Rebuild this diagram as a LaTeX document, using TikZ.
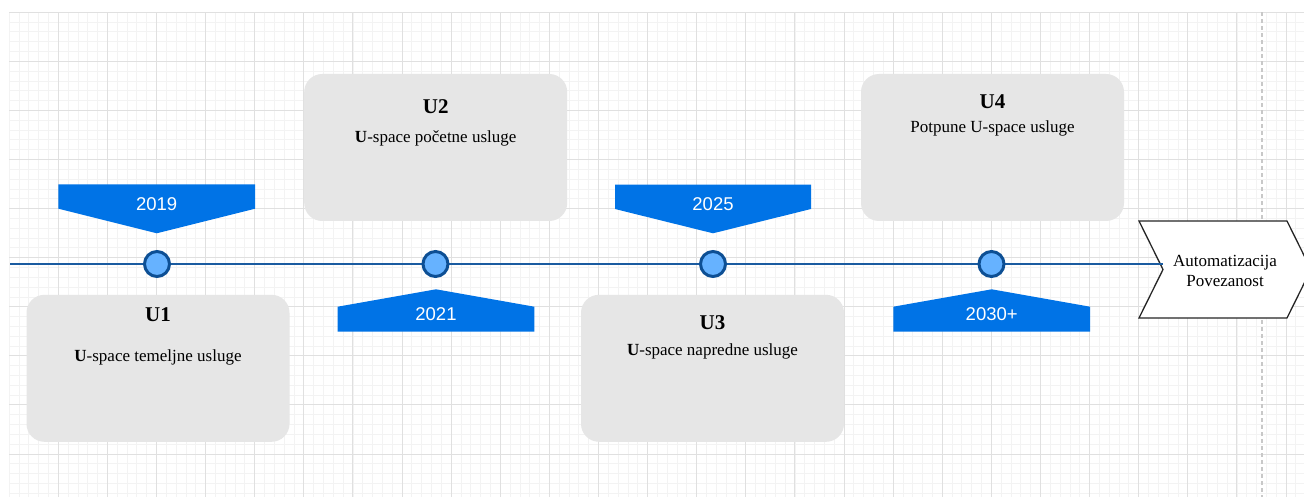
\documentclass[tikz,border=0pt]{standalone}
\usepackage{fontspec}
\setmainfont{Liberation Serif}
\newfontfamily\yearfont{Liberation Sans}
\definecolor{gridminor}{RGB}{243,243,243}
\definecolor{gridmajor}{RGB}{224,224,224}
\definecolor{boxgray}{RGB}{230,230,230}
\definecolor{flagblue}{RGB}{0,115,230}
\definecolor{linedark}{RGB}{26,91,160}
\definecolor{ringdark}{RGB}{13,79,148}
\definecolor{dotfill}{RGB}{102,178,255}
\tikzset{
  minorline/.style={draw=gridminor, line width=0.9pt},
  majorline/.style={draw=gridmajor, line width=1pt},
  card/.style={fill=boxgray, draw=none, rounded corners=18pt, minimum width=263pt, minimum height=147pt, inner sep=0pt},
  flag/.style={fill=flagblue, draw=none},
  yeartext/.style={anchor=base, text=white, font=\yearfont\fontsize{18.5}{20}\selectfont, inner sep=0pt},
  titletext/.style={anchor=base, font=\fontsize{21}{24}\selectfont\bfseries, inner sep=0pt},
  subtext/.style={anchor=base, font=\fontsize{17}{20}\selectfont, inner sep=0pt},
  dot/.style={circle, fill=dotfill, draw=ringdark, line width=3pt, minimum size=25pt, inner sep=0pt},
  timeline/.style={draw=linedark, line width=2.4pt},
}
\begin{document}
\begin{tikzpicture}[x=1pt, y=-1pt]
\useasboundingbox (0,0) rectangle (1304,497);
\fill[white] (0,0) rectangle (1304,497);
% grid
\begin{scope}
\clip (9.2,12.3) rectangle (1304,497);
\foreach \i in {0,...,132} {
  \pgfmathsetmacro\gx{9.2+\i*9.822}
  \draw[minorline] (\gx,12.3) -- (\gx,497);
}
\foreach \i in {0,...,50} {
  \pgfmathsetmacro\gy{12.3+\i*9.816}
  \draw[minorline] (9.2,\gy) -- (1304,\gy);
}
\foreach \i in {1,...,26} {
  \pgfmathsetmacro\gx{9.2+\i*49.11}
  \draw[majorline] (\gx,12.3) -- (\gx,497);
}
\foreach \i in {0,...,10} {
  \pgfmathsetmacro\gy{12.3+\i*49.08}
  \draw[majorline] (9.2,\gy) -- (1304,\gy);
}
\draw[draw={rgb,255:red,200;green,200;blue,200}, line width=1.3pt, dash pattern=on 4pt off 3pt] (1262,12.3) -- (1262,497);
\end{scope}

% cards
\node[card] (u1) at (158,368.3) {};
\node[card] (u2) at (435.7,147.5) {};
\node[card] (u3) at (712.5,368.3) {};
\node[card] (u4) at (992.5,147.5) {};

\node[titletext] (u1t) at (158,321.5) {U1};
\node[subtext] (u1s) at (158,361) {\textbf{U}-space temeljne usluge};
\node[titletext] (u2t) at (435.7,114) {U2};
\node[subtext] (u2s) at (435.7,143) {\textbf{U}-space početne usluge};
\node[titletext] (u3t) at (712.5,329) {U3};
\node[subtext] (u3s) at (712.5,355.3) {\textbf{U}-space napredne usluge};
\node[titletext] (u4t) at (992.5,108.7) {U4};
\node[subtext] (u4s) at (992.5,133) {Potpune U-space usluge};

% flags
\fill[flag] (58.3,184.3) -- (255,184.3) -- (255,208.7) -- (156.7,233.3) -- (58.3,208.7) -- cycle;
\fill[flag] (615,184.7) -- (811,184.7) -- (811,209) -- (713,233.3) -- (615,209) -- cycle;
\fill[flag] (337.7,331.7) -- (534.3,331.7) -- (534.3,306.7) -- (436,289.3) -- (337.7,306.7) -- cycle;
\fill[flag] (893.3,331.7) -- (1090,331.7) -- (1090,306.7) -- (991.7,289.3) -- (893.3,306.7) -- cycle;
\node[yeartext] (y2019) at (156.7,210.7) {2019};
\node[yeartext] (y2025) at (713,210.7) {2025};
\node[yeartext] (y2021) at (436,320) {2021};
\node[yeartext] (y2030) at (991.7,320) {2030+};

% chevron
\draw[fill=white, draw=black!85, line width=1.3pt] (1139,221) -- (1287,221) -- (1311,269.5) -- (1287,318) -- (1139,318) -- (1163,269.5) -- cycle;
\coordinate (notch) at (1163,264);
\coordinate (start) at (10,264);
\node[subtext] (chev1) at (1225,266.7) {Automatizacija};
\node[subtext] (chev2) at (1225,286.7) {Povezanost};

% timeline
\draw[timeline] (start) -- (notch);
\node[dot] (c1) at (157,264) {};
\node[dot] (c2) at (435.5,264) {};
\node[dot] (c3) at (713,264) {};
\node[dot] (c4) at (991.5,264) {};
\end{tikzpicture}
\end{document}
